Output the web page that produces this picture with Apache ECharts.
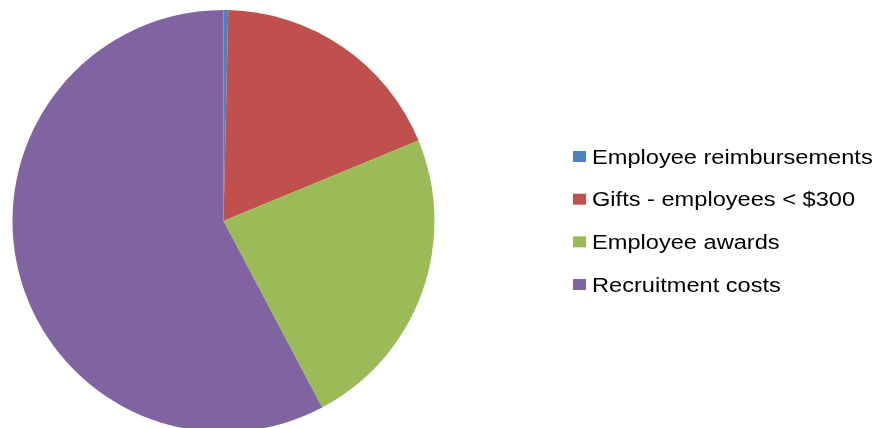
<!DOCTYPE html>
<html>
<head>
<meta charset="utf-8">
<style>
  html, body { margin: 0; padding: 0; background: #ffffff; }
  #chart { width: 877px; height: 428px; }
</style>
<script src="https://cdn.jsdelivr.net/npm/echarts@6/dist/echarts.min.js"></script>
</head>
<body>
<div id="chart"></div>
<script>
// Share of employee-related expenses (percent of total)
const categories = [
  'Employee reimbursements',
  'Gifts - employees < $300',
  'Employee awards',
  'Recruitment costs'
];
const shares = [0.36, 18.4, 23.5, 57.74];
const colors = ['#4F81BD', '#C0504D', '#9BBB59', '#8064A2'];

const chart = echarts.init(document.getElementById('chart'), null, { renderer: 'canvas' });

// Legend keys: colored square plus a horizontally widened label
const legendLeft = 573;
const legendTop = 151;
const rowStep = 42.67;
const legendItems = categories.map((name, i) => ({
  type: 'group',
  x: legendLeft,
  y: legendTop + i * rowStep,
  children: [
    {
      type: 'rect',
      shape: { x: 0, y: 0, width: 13, height: 11 },
      style: { fill: colors[i] }
    },
    {
      type: 'text',
      x: 19,
      y: 7,
      scaleX: 1.18,
      style: {
        text: name,
        font: '20px "Liberation Sans", Arial, sans-serif',
        fill: '#000000',
        verticalAlign: 'middle',
        align: 'left'
      }
    }
  ]
}));

chart.setOption({
  animation: false,
  backgroundColor: '#ffffff',
  color: colors,
  graphic: legendItems,
  series: [{
    type: 'pie',
    center: [223.5, 221],
    radius: 211,
    startAngle: 90,
    clockwise: true,
    label: { show: false },
    labelLine: { show: false },
    emphasis: { disabled: true },
    itemStyle: { borderWidth: 0 },
    data: categories.map((name, i) => ({ name: name, value: shares[i] }))
  }]
});
</script>
</body>
</html>
